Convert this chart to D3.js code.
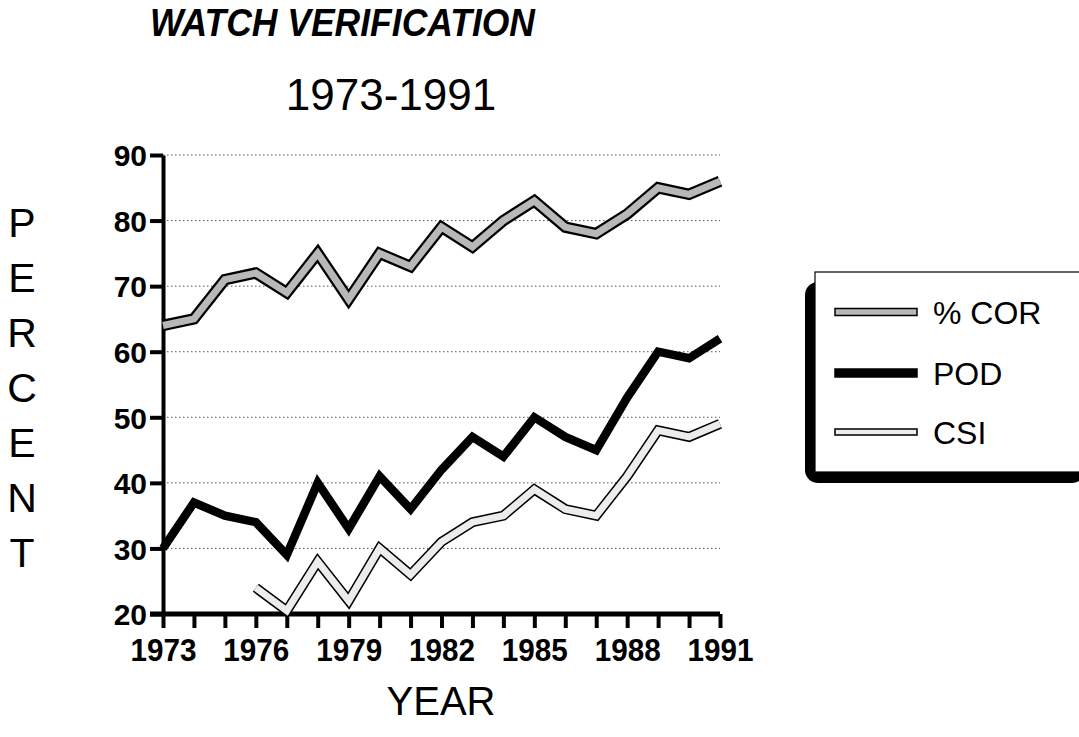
<!DOCTYPE html>
<html>
<head>
<meta charset="utf-8">
<script src="https://cdn.jsdelivr.net/npm/d3@7"></script>
<style>
	body{ margin:0; background:#fff; }
	svg{ display:block; font-family:"Liberation Sans", Arial, sans-serif; }
</style>
</head>
<body>
<svg id="chart" width="1079" height="737"></svg>
<script>
var years = [1973,1974,1975,1976,1977,1978,1979,1980,1981,1982,1983,1984,1985,1986,1987,1988,1989,1990,1991];
var corValues = [64,65,71,72,69,75,68,75,73,79,76,80,83,79,78,81,85,84,86];
var podValues = [30,37,35,34,29,40,33,41,36,42,47,44,50,47,45,53,60,59,62];
var csiValues = [null,null,null,24,20.5,28,22,30,26,31,34,35,39,36,35,41,48,47,49];
var yTicks = [20,30,40,50,60,70,80,90];
var xLabelYears = [1973,1976,1979,1982,1985,1988,1991];
var seriesNames = ["% COR", "POD", "CSI"];
var yLetters = ["P","E","R","C","E","N","T"];

var svg = d3.select("#chart");

var x = d3.scaleLinear().domain([1973, 1991]).range([163, 720]);
var y = d3.scaleLinear().domain([20, 90]).range([614, 155]);

// titles
svg.append("text")
	.attr("x", 150).attr("y", 36)
	.attr("textLength", 385).attr("lengthAdjust", "spacingAndGlyphs")
	.style("font-size", "38px").style("font-weight", "bold").style("font-style", "italic")
	.text("WATCH VERIFICATION");
svg.append("text")
	.attr("x", 391).attr("y", 110).attr("text-anchor", "middle")
	.style("font-size", "44px")
	.text("1973-1991");

// grid
var grid = svg.append("g");
grid.selectAll("line").data(yTicks.slice(1)).enter()
	.append("line")
	.attr("x1", x(1973)).attr("x2", x(1991))
	.attr("y1", function(d){ return y(d); })
	.attr("y2", function(d){ return y(d); })
	.attr("stroke", "#555")
	.attr("stroke-width", 1)
	.attr("stroke-dasharray", "1.5,2.5");

// axes
var yAxis = d3.axisLeft(y).tickValues(yTicks).tickSize(13).tickPadding(3).tickSizeOuter(0);
var gy = svg.append("g").attr("transform", "translate(" + x(1973) + ",0)").call(yAxis);
gy.select(".domain").attr("stroke-width", 4);
gy.selectAll(".tick line").attr("stroke-width", 4);
gy.selectAll(".tick text")
	.style("font-size", "30px").style("font-weight", "bold")
	.attr("fill", "#000").attr("dy", "0.36em");

var xAxis = d3.axisBottom(x).tickValues(years).tickSize(14).tickPadding(11).tickSizeOuter(0)
	.tickFormat(function(d){ return xLabelYears.indexOf(d) >= 0 ? d : ""; });
var gx = svg.append("g").attr("transform", "translate(0," + y(20) + ")").call(xAxis);
gx.select(".domain").attr("stroke-width", 5).attr("d", "M150,0H" + x(1991));
gx.selectAll(".tick line").attr("stroke-width", 4);
gx.selectAll(".tick text")
	.filter(function(d){ return xLabelYears.indexOf(d) >= 0; })
	.attr("textLength", 66).attr("lengthAdjust", "spacingAndGlyphs")
	.style("font-size", "31px").style("font-weight", "bold")
	.attr("fill", "#000").attr("dy", "0.71em");

svg.append("text")
	.attr("x", 441).attr("y", 715).attr("text-anchor", "middle")
	.style("font-size", "40px")
	.text("YEAR");

svg.append("g").selectAll("text").data(yLetters).enter()
	.append("text")
	.attr("x", 22)
	.attr("y", function(d, i){ return 237 + i * 55; })
	.attr("text-anchor", "middle")
	.style("font-size", "41px")
	.text(function(d){ return d; });

// lines
var line = d3.line()
	.defined(function(d){ return d[1] !== null; })
	.x(function(d){ return x(d[0]); })
	.y(function(d){ return y(d[1]); });
var pairs = function(vals){
	return years.map(function(yr, i){ return [yr, vals[i]]; });
};
var plot = svg.append("g").attr("fill", "none").attr("stroke-linejoin", "miter").attr("stroke-linecap", "butt");

plot.append("path").attr("d", line(pairs(csiValues))).attr("stroke", "#000").attr("stroke-width", 10);
plot.append("path").attr("d", line(pairs(csiValues))).attr("stroke", "#ececec").attr("stroke-width", 7);

plot.append("path").attr("d", line(pairs(podValues))).attr("stroke", "#000").attr("stroke-width", 8.5);

plot.append("path").attr("d", line(pairs(corValues))).attr("stroke", "#000").attr("stroke-width", 11.5);
plot.append("path").attr("d", line(pairs(corValues))).attr("stroke", "#b8b8b8").attr("stroke-width", 7);

// legend
var legend = svg.append("g");
legend.append("rect")
	.attr("x", 805).attr("y", 282).attr("width", 280).attr("height", 201)
	.attr("rx", 13).attr("fill", "#000");
legend.append("rect")
	.attr("x", 815).attr("y", 272).attr("width", 270).attr("height", 200)
	.attr("fill", "#fff").attr("stroke", "#000").attr("stroke-width", 1.2);

var swFill = ["#b8b8b8", "#000", "#ececec"];
var swH = [7, 8, 6];
var rowY = [312, 373, 432];
seriesNames.forEach(function(name, i){
	legend.append("rect")
		.attr("x", 835).attr("y", rowY[i] - swH[i] / 2)
		.attr("width", 82).attr("height", swH[i])
		.attr("fill", swFill[i]).attr("stroke", "#000").attr("stroke-width", 1.5);
	legend.append("text")
		.attr("x", 933).attr("y", rowY[i] + 12)
		.style("font-size", "32px")
		.text(name);
});
</script>
</body>
</html>
